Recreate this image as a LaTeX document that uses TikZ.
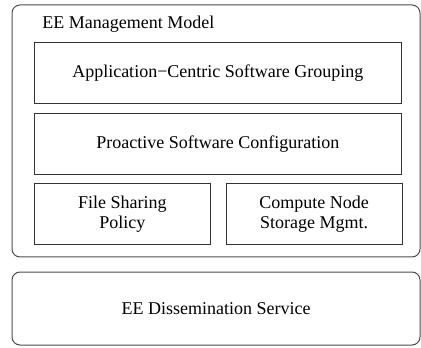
\documentclass[tikz,border=0pt]{standalone}
\usepackage{fontspec}
\setmainfont{Liberation Serif}
\usetikzlibrary{positioning}

\begin{document}
\begin{tikzpicture}[x=1pt, y=1pt, node distance=4.5pt,
                    every node/.style={font=\fontsize{9}{10}\selectfont},
                    layer/.style={draw=black!70, line width=0.5pt, rounded corners=4pt,
                                  minimum width=204pt, inner sep=0pt},
                    block/.style={draw=black!80, line width=0.5pt, align=center,
                                  minimum height=30.5pt, inner sep=0pt}]
  \useasboundingbox (0,0) rectangle (210.5,173.5);

  \node[layer, minimum height=126pt] (model) at (108,108) {};
  \node[anchor=base west, inner sep=0pt] (modeltitle) at (21,159.25) {EE Management Model};

  \node[block, minimum width=183.25pt] (grouping) at (108.9,136.75) {Application−Centric Software Grouping};
  \node[block, minimum width=183.25pt] (config) [below=of grouping] {Proactive Software Configuration};
  \node[block, minimum width=87.75pt]
    (sharing) [below=3.75pt of config.south west, anchor=north west] {File Sharing\\Policy};
  \node[block, minimum width=88pt] (storage) [right=7.5pt of sharing] {Compute Node\\Storage Mgmt.};

  \node[layer, minimum height=36.5pt] (dissem) at (108,19.25) {EE Dissemination Service};
\end{tikzpicture}
\end{document}
